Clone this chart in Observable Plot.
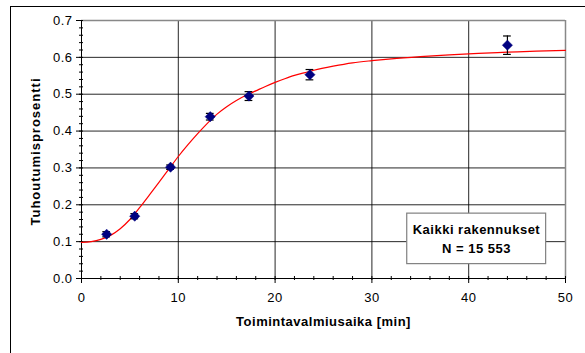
<!DOCTYPE html>
<html><head><meta charset="utf-8">
<script src="https://cdn.jsdelivr.net/npm/d3@7"></script>
<script src="https://cdn.jsdelivr.net/npm/@observablehq/plot@0.6"></script>
<style>
html,body{margin:0;padding:0;overflow:hidden;background:#fff;width:585px;height:353px}
#frame{position:absolute;left:10px;top:6px;width:700px;height:500px;border:1px solid #000;box-sizing:border-box}
#chart{position:absolute;left:0;top:0}
#chart svg{background:transparent}
#chart text{letter-spacing:0.5px}
#chart .ylab text{letter-spacing:1px}
</style></head><body>
<div id="frame"></div><div id="chart"></div>
<script>
// Measured points with error bars
const pointX = [2.6, 5.5, 9.2, 13.3, 17.3, 23.6, 44.0];
const pointY = [0.120, 0.169, 0.302, 0.439, 0.495, 0.553, 0.633];
const pointErr = [0.007, 0.007, 0.006, 0.009, 0.012, 0.014, 0.025];
// Fitted curve
const curveX = [0, 1, 2, 3, 4, 5, 6, 7, 8, 9, 10, 11, 12, 13, 14, 15, 16, 17, 18, 19, 20, 21, 22, 23, 24, 26, 28, 30, 32, 35, 38, 41, 44, 47, 50];
const curveY = [0.098, 0.100, 0.106, 0.117, 0.135, 0.160, 0.192, 0.226, 0.261, 0.296, 0.331, 0.363, 0.393, 0.421, 0.446, 0.466, 0.483, 0.497, 0.509, 0.521, 0.532, 0.542, 0.551, 0.558, 0.565, 0.576, 0.585, 0.591, 0.596, 0.602, 0.607, 0.611, 0.614, 0.617, 0.619];
// Tick labels
const xTicks = [0, 10, 20, 30, 40, 50];
const yTicks = [0, 0.1, 0.2, 0.3, 0.4, 0.5, 0.6, 0.7];
const xLabel = "Toimintavalmiusaika [min]";
const yLabel = "Tuhoutumisprosentti";
const noteText = "Kaikki rakennukset\nN = 15 553";

const points = pointX.map((x, i) => ({x, y: pointY[i], e: pointErr[i]}));
const curve = curveX.map((x, i) => ({x, y: curveY[i]}));
const xMinor = d3.range(0, 50.001, 2);
const yMinor = d3.range(0, 0.7001, 0.02);

const chart = Plot.plot({
  width: 585, height: 353,
  marginLeft: 81, marginRight: 20, marginTop: 20, marginBottom: 75,
  style: {fontFamily: "'Liberation Sans', Arial, sans-serif", fontSize: "13px", color: "#000", background: "transparent"},
  x: {domain: [0, 50]},
  y: {domain: [0, 0.7]},
  marks: [
    Plot.gridX({ticks: [10, 20, 30, 40], stroke: "#000", strokeOpacity: 0.85}),
    Plot.gridY({ticks: [0.1, 0.2, 0.3, 0.4, 0.5, 0.6], stroke: "#000", strokeOpacity: 0.85}),
    Plot.ruleY([0.7], {stroke: "#888", strokeWidth: 1.5}),
    Plot.ruleX([50], {stroke: "#888", strokeWidth: 1.5}),
    Plot.axisX({ticks: xMinor, tickSize: 4, dy: -2, tickFormat: () => "", label: null, strokeWidth: 1}),
    Plot.axisY({ticks: yMinor, tickSize: 4, dx: 2, tickFormat: () => "", label: null, strokeWidth: 1}),
    Plot.axisX({ticks: xTicks, tickSize: 5, tickPadding: 9, tickFormat: d3.format("d"), label: null}),
    Plot.axisY({ticks: yTicks, tickSize: 5, tickPadding: 4, tickFormat: d3.format(".1f"), label: null}),
    Plot.ruleY([0], {stroke: "#000"}),
    Plot.ruleX([0], {stroke: "#000"}),
    Plot.line(curve, {x: "x", y: "y", stroke: "#ff0000", strokeWidth: 1.2, curve: "monotone-x"}),
    Plot.ruleX(points, {x: "x", y1: d => d.y - d.e, y2: d => d.y + d.e, stroke: "#000", strokeWidth: 1.2}),
    Plot.ruleY(points, {y: d => d.y + d.e, x1: d => d.x - 0.4, x2: d => d.x + 0.4, stroke: "#000", strokeWidth: 1.2}),
    Plot.ruleY(points, {y: d => d.y - d.e, x1: d => d.x - 0.4, x2: d => d.x + 0.4, stroke: "#000", strokeWidth: 1.2}),
    Plot.dot(points, {x: "x", y: "y", symbol: "diamond2", r: 4.6, fill: "#000080", stroke: "#000080", strokeWidth: 0.5}),
    Plot.rect([{}], {x1: 33.65, x2: 48.0, y1: 0.039, y2: 0.176, fill: "#fff", stroke: "#808080", strokeWidth: 1.2}),
    Plot.text([noteText], {x: 40.8, y: 0.1125, text: d => d, fontWeight: "bold", fontSize: 13, lineHeight: 1.5, fill: "#000"}),
    Plot.text([yLabel], {frameAnchor: "left", textAnchor: "middle", dx: -46, dy: 2, rotate: -90, text: d => d, fontWeight: "bold", fontSize: 13, fill: "#000", className: "ylab"}),
    Plot.text([xLabel], {frameAnchor: "bottom", dy: 47, text: d => d, fontWeight: "bold", fontSize: 13, fill: "#000"})
  ]
});
document.getElementById("chart").appendChild(chart);
</script>
</body></html>
